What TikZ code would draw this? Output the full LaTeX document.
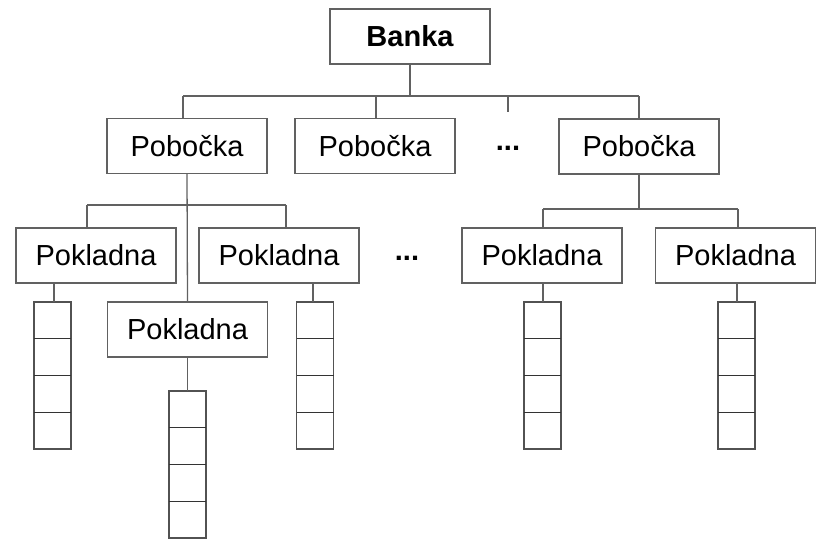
\documentclass[tikz,border=0pt]{standalone}
\usepackage{fontspec}
\setmainfont{Liberation Sans}
\begin{document}
\begin{tikzpicture}[x=1pt,y=-1pt,
  line/.style={draw=black!62,line width=1.3pt},
  box/.style={line,rectangle,fill=white,minimum width=160pt,minimum height=55pt,
    inner sep=0pt,font=\fontsize{29}{34}\selectfont},
  cell/.style={draw=black!68,line width=1.3pt,rectangle,minimum width=37pt,
    minimum height=36.75pt,inner sep=0pt,outer sep=0pt},
  divider/.style={draw=black!80,line width=1.4pt},
  dots/.style={font=\fontsize{29}{34}\selectfont\bfseries,inner sep=0pt}]
\useasboundingbox (0,0) rectangle (816,539);

% top level
\node[box,font=\fontsize{29}{34}\selectfont\bfseries] (banka) at (410,36.5) {Banka};

% branches
\node[box] (pob1) at (187,146) {Pobočka};
\node[box] (pob2) at (375,146) {Pobočka};
\node[box] (pob3) at (639,146.5) {Pobočka};
\node[dots] (dotsA) at (508,148) {...};

% tellers
\node[box] (pok1) at (96,255.5) {Pokladna};
\node[box] (pok2) at (279,255.5) {Pokladna};
\node[box] (pok3) at (187.5,329.5) {Pokladna};
\node[box] (pok4) at (542,255.5) {Pokladna};
\node[box] (pok5) at (735.5,255.5) {Pokladna};
\node[dots] (dotsB) at (407,258) {...};

% queues of four cells, with darker dividers between them
\foreach \s/\x/\y in {q1/52.5/302, q2/315/302, q3/187.5/391, q4/542.5/302, q5/736.5/302}{
  \node[cell,anchor=north] (\s a) at (\x,\y) {};
  \node[cell,anchor=north] (\s b) at (\s a.south) {};
  \node[cell,anchor=north] (\s c) at (\s b.south) {};
  \node[cell,anchor=north] (\s d) at (\s c.south) {};
  \draw[divider] (\s a.south west) -- (\s a.south east);
  \draw[divider] (\s b.south west) -- (\s b.south east);
  \draw[divider] (\s c.south west) -- (\s c.south east);
}

% bank to branches
\coordinate (busL) at (183,96);
\coordinate (busR) at (639,96);
\coordinate (bus2) at (376,96);
\coordinate (tick) at (508,96);
\draw[line] (banka.south) -- (banka.south |- busL);
\draw[line] (busL) -- (busR);
\draw[line] (busL) -- (busL |- pob1.north);
\draw[line] (bus2) -- (bus2 |- pob2.north);
\draw[line] (busR) -- (pob3.north);
\draw[line] (tick) -- ++(0,16);

% branch 1 to tellers
\coordinate (b1L) at (87,205);
\coordinate (b1R) at (286,205);
\draw[line] (pob1.south) -- (pok3.north);
\draw[line] (b1L) -- (b1R);
\draw[line] (b1L) -- (b1L |- pok1.north);
\draw[line] (b1R) -- (b1R |- pok2.north);

% branch 3 to tellers
\coordinate (b3L) at (543,209);
\coordinate (b3R) at (738,209);
\draw[line] (pob3.south) -- (pob3.south |- b3L);
\draw[line] (b3L) -- (b3R);
\draw[line] (b3L) -- (b3L |- pok4.north);
\draw[line] (b3R) -- (b3R |- pok5.north);

% tellers to queues
\draw[line] (pok1.south -| 54,0) -- (q1a.north -| 54,0);
\draw[line] (pok2.south -| 313,0) -- (q2a.north -| 313,0);
\draw[line] (pok3.south) -- (q3a.north);
\draw[line] (pok4.south -| 543,0) -- (q4a.north -| 543,0);
\draw[line] (pok5.south -| 737,0) -- (q5a.north -| 737,0);
\end{tikzpicture}
\end{document}
